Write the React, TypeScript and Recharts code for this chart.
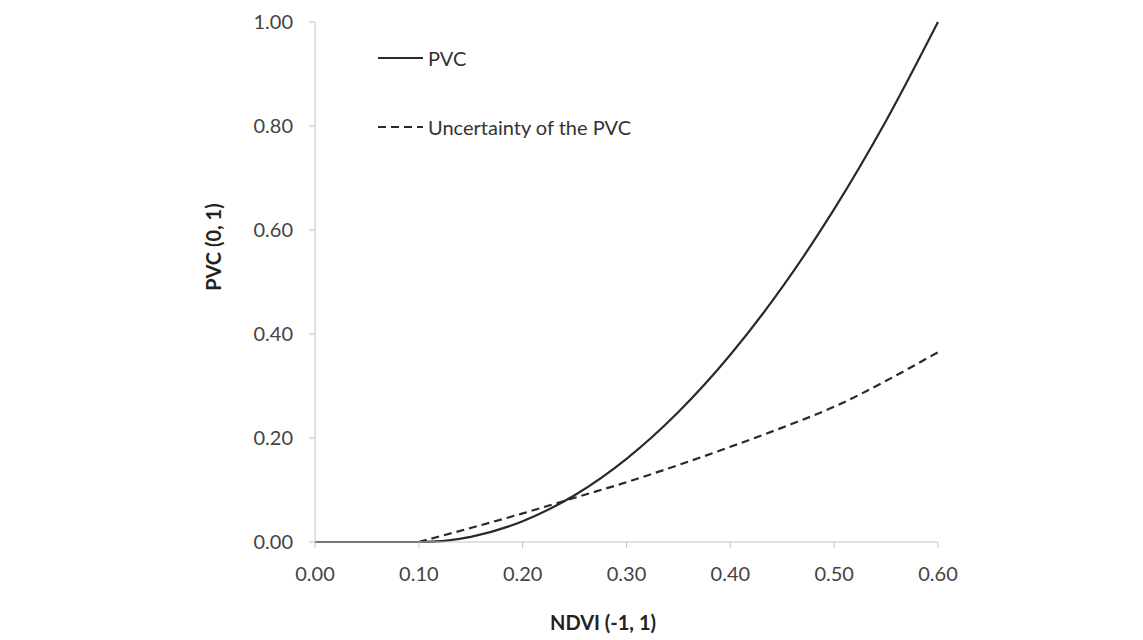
import { LineChart, Line, XAxis, YAxis } from 'recharts';

// NDVI positions
const ndvi = [0, 0.05, 0.1, 0.15, 0.2, 0.25, 0.3, 0.35, 0.4, 0.45, 0.5, 0.55, 0.6];
const pvc = [0, 0, 0, 0.01, 0.04, 0.09, 0.16, 0.25, 0.36, 0.49, 0.64, 0.81, 1.0];
const uncertainty = [null, null, 0, 0.027, 0.055, 0.085, 0.115, 0.148, 0.183, 0.22, 0.26, 0.31, 0.365];
const xTicks = [0, 0.1, 0.2, 0.3, 0.4, 0.5, 0.6];
const yTicks = [0, 0.2, 0.4, 0.6, 0.8, 1.0];
const legendItems = [
  { label: 'PVC', dash: undefined },
  { label: 'Uncertainty of the PVC', dash: '8 5' },
];

const data = ndvi.map((x, i) => ({ ndvi: x, pvc: pvc[i], unc: uncertainty[i] }));

const font = 'Lato, "Open Sans", sans-serif';
const axisColor = '#c4c4c4';
const lineColor = '#2a2a2a';

export default function App() {
  return (
    <div style={{ position: 'absolute', left: 0, top: 0, width: 1143, height: 640, background: '#fff' }}>
      <LineChart width={1143} height={640} data={data} margin={{ top: 22, right: 205, bottom: 3, left: 215 }}>
        <XAxis
          dataKey="ndvi"
          type="number"
          domain={[0, 0.6]}
          ticks={xTicks}
          tickFormatter={(v: number) => v.toFixed(2)}
          height={95}
          stroke={axisColor}
          tickSize={6}
          tickMargin={19}
          tick={{ fill: '#444', fontFamily: font, fontSize: 20 }}
          label={{
            content: () => (
              <text x={603} y={622} textAnchor="middle" dominantBaseline="central" fontFamily={font} fontWeight="bold" fontSize={20} fill="#222">
                NDVI (-1, 1)
              </text>
            ),
          }}
        />
        <YAxis
          type="number"
          domain={[0, 1]}
          ticks={yTicks}
          tickFormatter={(v: number) => v.toFixed(2)}
          width={100}
          stroke={axisColor}
          tickSize={6}
          tickMargin={16}
          tick={{ fill: '#444', fontFamily: font, fontSize: 20 }}
          label={{
            content: () => (
              <text x={213} y={247} transform="rotate(-90 213 247)" textAnchor="middle" dominantBaseline="central" fontFamily={font} fontWeight="bold" fontSize={20} fill="#222">
                PVC (0, 1)
              </text>
            ),
          }}
        />
        <Line
          dataKey="pvc"
          name="PVC"
          type="monotone"
          stroke={lineColor}
          strokeWidth={2.2}
          dot={false}
          isAnimationActive={false}
        />
        <Line
          dataKey="unc"
          name="Uncertainty of the PVC"
          type="monotone"
          stroke={lineColor}
          strokeWidth={2.2}
          strokeDasharray="8 5"
          dot={false}
          isAnimationActive={false}
        />
      </LineChart>
      {/* legend overlay, inside the plot's top-left */}
      <div style={{ position: 'absolute', left: 378, top: 43, fontFamily: font, fontSize: 20, color: '#333' }}>
        {legendItems.map((it, i) => (
          <div key={it.label} style={{ display: 'flex', alignItems: 'center', height: 30, marginBottom: i === 0 ? 39 : 0 }}>
            <svg width={48} height={10}>
              <line x1={0} y1={5} x2={45} y2={5} stroke={lineColor} strokeWidth={2} strokeDasharray={it.dash} />
            </svg>
            <span style={{ marginLeft: 2 }}>{it.label}</span>
          </div>
        ))}
      </div>
    </div>
  );
}
